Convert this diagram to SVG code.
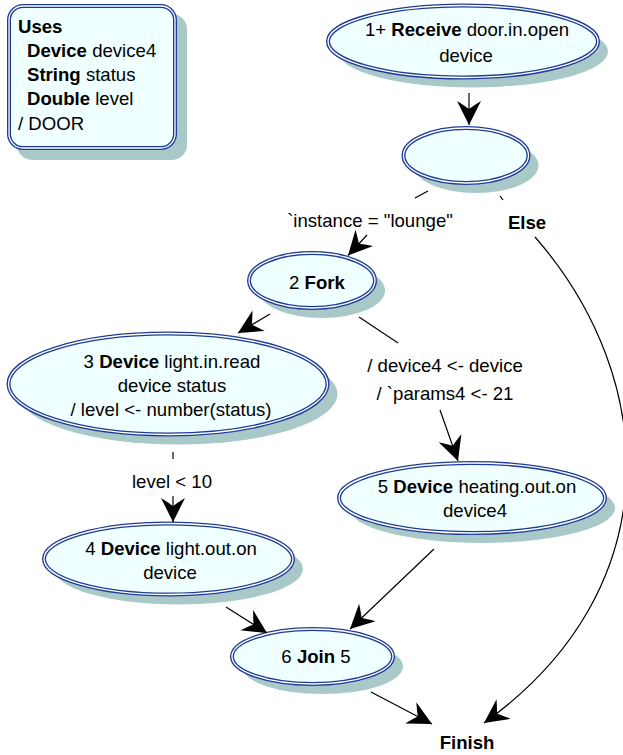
<svg xmlns="http://www.w3.org/2000/svg" width="623" height="755" viewBox="0 0 623 755">
<style>
text{font-family:"Liberation Sans",Arial,sans-serif;font-size:18.6px;fill:#000}
.b{font-weight:bold}
.c{text-anchor:middle}
.sh{fill:#a9c8c8}
.nd{fill:#f0ffff;stroke:#1e3c96;stroke-width:4}
.in{fill:none;stroke:#ffffff;stroke-width:1.3}
.e{fill:none;stroke:#000;stroke-width:1.2}
</style>
<defs>
<marker id="ah" markerUnits="userSpaceOnUse" viewBox="-26 -13 28 26" markerWidth="28" markerHeight="26" refX="0" refY="0" orient="auto">
<path d="M0,0 L-24,-12 Q-19,-4 -16,0 Q-19,4 -24,12 Z" fill="#000"/>
</marker>
</defs>

<g id="uses">
<rect class="sh" x="17" y="14" width="170" height="146" rx="15"/>
<rect class="nd" x="9" y="6" width="166" height="142" rx="14"/>
<rect class="in" x="9" y="6" width="166" height="142" rx="14"/>
<text x="18" y="33" class="b">Uses</text>
<text x="27" y="57"><tspan class="b">Device</tspan> device4</text>
<text x="27" y="81"><tspan class="b">String</tspan> status</text>
<text x="27" y="105"><tspan class="b">Double</tspan> level</text>
<text x="18" y="130">/ DOOR</text>
</g>

<g id="n1">
<ellipse class="sh" cx="473" cy="51.5" rx="135" ry="36"/>
<ellipse class="nd" cx="463" cy="41.5" rx="135" ry="36"/>
<ellipse class="in" cx="463" cy="41.5" rx="135" ry="36"/>
<text x="467" y="36" class="c">1+ <tspan class="b">Receive</tspan> door.in.open</text>
<text x="466" y="62" class="c">device</text>
</g>

<g id="branch">
<ellipse class="sh" cx="476" cy="165.5" rx="62.5" ry="27.5"/>
<ellipse class="nd" cx="466" cy="155.5" rx="62.5" ry="27.5"/>
<ellipse class="in" cx="466" cy="155.5" rx="62.5" ry="27.5"/>
</g>

<g id="n2">
<ellipse class="sh" cx="322" cy="290.5" rx="63" ry="27.5"/>
<ellipse class="nd" cx="312" cy="280.5" rx="63" ry="27.5"/>
<ellipse class="in" cx="312" cy="280.5" rx="63" ry="27.5"/>
<text x="317" y="289" class="c">2 <tspan class="b">Fork</tspan></text>
</g>

<g id="n3">
<ellipse class="sh" cx="178" cy="394" rx="159.5" ry="50.5"/>
<ellipse class="nd" cx="168" cy="384" rx="159.5" ry="50.5"/>
<ellipse class="in" cx="168" cy="384" rx="159.5" ry="50.5"/>
<text x="172" y="368" class="c">3 <tspan class="b">Device</tspan> light.in.read</text>
<text x="172" y="392" class="c">device status</text>
<text x="171" y="416" class="c">/ level &lt;- number(status)</text>
</g>

<g id="n4">
<ellipse class="sh" cx="178.5" cy="569" rx="124.5" ry="35.5"/>
<ellipse class="nd" cx="168.5" cy="559" rx="124.5" ry="35.5"/>
<ellipse class="in" cx="168.5" cy="559" rx="124.5" ry="35.5"/>
<text x="171" y="555" class="c">4 <tspan class="b">Device</tspan> light.out.on</text>
<text x="170" y="579" class="c">device</text>
</g>

<g id="n5">
<ellipse class="sh" cx="482" cy="508" rx="133" ry="35"/>
<ellipse class="nd" cx="472" cy="498" rx="133" ry="35"/>
<ellipse class="in" cx="472" cy="498" rx="133" ry="35"/>
<text x="477" y="493" class="c">5 <tspan class="b">Device</tspan> heating.out.on</text>
<text x="475" y="517" class="c">device4</text>
</g>

<g id="n6">
<ellipse class="sh" cx="322.5" cy="666.5" rx="80.5" ry="27.5"/>
<ellipse class="nd" cx="312.5" cy="656.5" rx="80.5" ry="27.5"/>
<ellipse class="in" cx="312.5" cy="656.5" rx="80.5" ry="27.5"/>
<text x="316" y="663" class="c">6 <tspan class="b">Join</tspan> 5</text>
</g>

<g id="finish">
<text x="467" y="749" class="c b">Finish</text>
</g>

<g id="connectors">
<line class="e" x1="469" y1="93" x2="469" y2="125" marker-end="url(#ah)"/>
<line class="e" x1="428" y1="191" x2="415" y2="198"/>
<line class="e" x1="367" y1="235" x2="348" y2="255.5" marker-end="url(#ah)"/>
<line class="e" x1="500" y1="196" x2="503" y2="200"/>
<path class="e" d="M535,237 C660,380 670,590 484,723" marker-end="url(#ah)"/>
<line class="e" x1="270" y1="314" x2="238" y2="333" marker-end="url(#ah)"/>
<line class="e" x1="359" y1="317" x2="398" y2="343"/>
<line class="e" x1="440" y1="410" x2="458" y2="461" marker-end="url(#ah)"/>
<line class="e" x1="173" y1="452" x2="173" y2="459"/>
<line class="e" x1="173" y1="496" x2="173" y2="522" marker-end="url(#ah)"/>
<line class="e" x1="226" y1="607" x2="267" y2="633" marker-end="url(#ah)"/>
<line class="e" x1="434" y1="549" x2="350" y2="629" marker-end="url(#ah)"/>
<line class="e" x1="371" y1="692" x2="432" y2="724" marker-end="url(#ah)"/>
<text x="370" y="227" class="c">`instance = "lounge"</text>
<text x="527" y="229" class="c b">Else</text>
<text x="445" y="372" class="c">/ device4 &lt;- device</text>
<text x="445" y="400" class="c">/ `params4 &lt;- 21</text>
<text x="172" y="488" class="c">level &lt; 10</text>
</g>
</svg>
